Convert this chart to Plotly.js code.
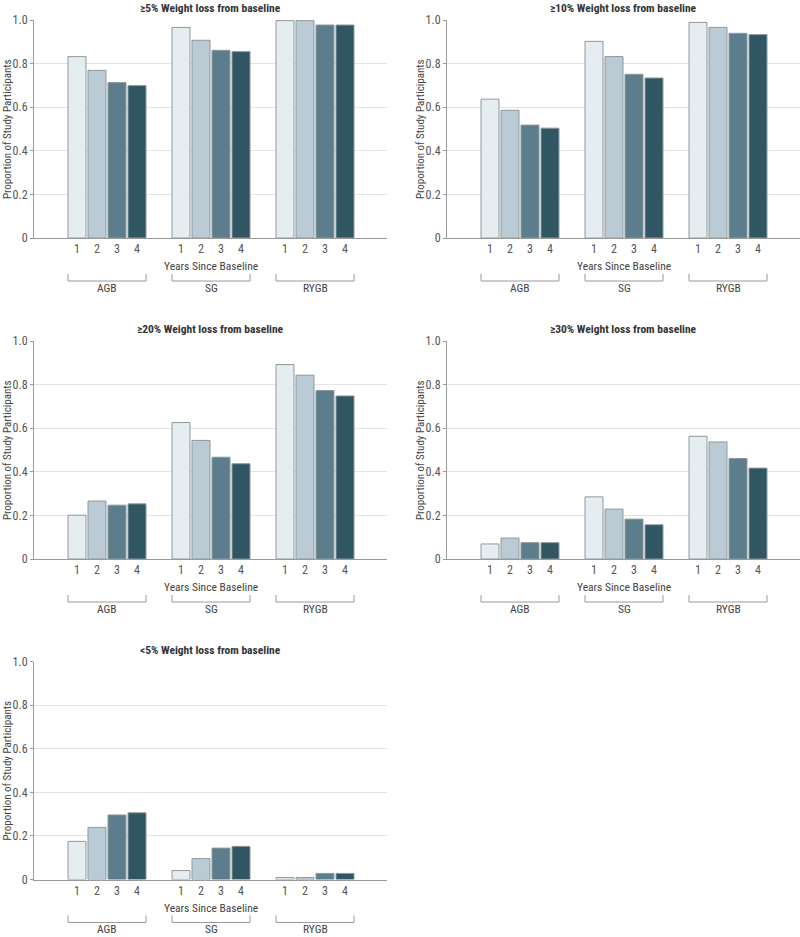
<!DOCTYPE html>
<html>
<head>
<meta charset="utf-8">
<script src="https://cdn.plot.ly/plotly-3.0.1.min.js"></script>
<style>html,body{margin:0;padding:0;background:#fff;}#chart{width:800px;height:937px;}</style>
</head>
<body>
<div id="chart"></div>
<script>
// ---- data ----
const groups = ['AGB', 'SG', 'RYGB'];
const years = ['1', '2', '3', '4'];
const panelTitles = [
  '≥5% Weight loss from baseline',
  '≥10% Weight loss from baseline',
  '≥20% Weight loss from baseline',
  '≥30% Weight loss from baseline',
  '<5% Weight loss from baseline'
];
const yTickVals = [0, 0.2, 0.4, 0.6, 0.8, 1.0];
const yTickText = ['0', '0.2', '0.4', '0.6', '0.8', '1.0'];
// values ordered AGB y1..y4, SG y1..y4, RYGB y1..y4
const ge5  = [0.832, 0.769, 0.713, 0.699, 0.966, 0.907, 0.861, 0.855, 0.997, 0.997, 0.977, 0.977];
const ge10 = [0.637, 0.586, 0.518, 0.504, 0.902, 0.832, 0.751, 0.734, 0.989, 0.966, 0.939, 0.933];
const ge20 = [0.201, 0.266, 0.247, 0.253, 0.626, 0.544, 0.467, 0.437, 0.892, 0.843, 0.773, 0.748];
const ge30 = [0.069, 0.096, 0.075, 0.075, 0.285, 0.229, 0.183, 0.157, 0.563, 0.537, 0.461, 0.417];
const lt5  = [0.175, 0.239, 0.296, 0.306, 0.041, 0.096, 0.144, 0.152, 0.009, 0.009, 0.028, 0.028];
const panelData = [ge5, ge10, ge20, ge30, lt5];

// ---- styling / layout ----
const yearColors = ['#e6edf1', '#bacbd5', '#5c7e8c', '#2f5662'];
const outline = '#8e999e';
const FONT = 'Liberation Sans Narrow, Arial Narrow, Roboto Condensed, DejaVu Sans Condensed, sans-serif';
const W = 800, H = 937;
const GP = 5.2; // group pitch in bar slots
const panelsPx = [
  {x0: 34, x1: 387, y0: 20, y1: 238},
  {x0: 447, x1: 800, y0: 20, y1: 238},
  {x0: 34, x1: 387, y0: 341, y1: 559},
  {x0: 447, x1: 800, y0: 341, y1: 559},
  {x0: 34, x1: 387, y0: 661.5, y1: 879.5}
];

const xPos = [], xLabels = [], colors = [];
groups.forEach((g, gi) => years.forEach((yr, yi) => {
  xPos.push(gi * GP + yi);
  xLabels.push(yr);
  colors.push(yearColors[yi]);
}));
const xRange = [-2.15, (groups.length - 1) * GP + (years.length - 1) + 2.1];

const traces = [];
const layout = {
  width: W, height: H,
  margin: {l: 0, r: 0, t: 0, b: 0},
  paper_bgcolor: '#fff', plot_bgcolor: '#fff',
  showlegend: false,
  font: {family: FONT, size: 12, color: '#444'},
  annotations: [], shapes: []
};

panelData.forEach((vals, p) => {
  const n = p + 1;
  const xa = n === 1 ? 'x' : 'x' + n;
  const ya = n === 1 ? 'y' : 'y' + n;
  const xk = n === 1 ? 'xaxis' : 'xaxis' + n;
  const yk = n === 1 ? 'yaxis' : 'yaxis' + n;
  const px = panelsPx[p];
  const hPx = px.y1 - px.y0;
  traces.push({
    type: 'bar', x: xPos, y: vals, xaxis: xa, yaxis: ya,
    width: 0.9,
    marker: {color: colors, line: {color: outline, width: 1}},
    hoverinfo: 'y'
  });
  layout[xk] = {
    domain: [px.x0 / W, px.x1 / W], anchor: ya,
    range: xRange, showgrid: false, zeroline: false,
    tickvals: xPos, ticktext: xLabels, ticks: '',
    showline: true, linecolor: '#9a9a9a', linewidth: 1,
    tickfont: {family: FONT, size: 12, color: '#555'},
    fixedrange: true
  };
  layout[yk] = {
    domain: [1 - px.y1 / H, 1 - px.y0 / H], anchor: xa,
    range: [0, 1], tickvals: yTickVals, ticktext: yTickText,
    showgrid: true, gridcolor: '#e4e4e4', gridwidth: 1,
    zeroline: false, showline: true, linecolor: '#9a9a9a', linewidth: 1,
    ticks: 'outside', ticklen: 3, tickcolor: '#9a9a9a',
    tickfont: {family: FONT, size: 12, color: '#555'},
    fixedrange: true
  };
  // panel title
  layout.annotations.push({
    text: '<b>' + panelTitles[p] + '</b>', xref: xa + ' domain', yref: ya + ' domain',
    x: 0.5, y: 1 + 12 / hPx, xanchor: 'center', yanchor: 'middle', showarrow: false,
    font: {family: FONT, size: 11.5, color: '#333'}
  });
  // x axis title
  layout.annotations.push({
    text: 'Years Since Baseline', xref: xa + ' domain', yref: ya + ' domain',
    x: 0.5, y: -28 / hPx, xanchor: 'center', yanchor: 'middle', showarrow: false,
    font: {family: FONT, size: 11.5, color: '#444'}
  });
  // y axis title
  layout.annotations.push({
    text: 'Proportion of Study Participants', xref: 'paper', yref: ya + ' domain',
    x: (px.x0 - 27) / W, y: 0.5, xanchor: 'center', yanchor: 'middle', showarrow: false,
    textangle: -90,
    font: {family: FONT, size: 11, color: '#444'}
  });
  // group brackets and labels
  groups.forEach((g, gi) => {
    const left = gi * GP - 0.45;
    const right = gi * GP + (years.length - 1) + 0.45;
    layout.shapes.push({
      type: 'path', xref: xa, yref: ya + ' domain',
      path: `M ${left},${-36 / hPx} L ${left},${-43 / hPx} L ${right},${-43 / hPx} L ${right},${-36 / hPx}`,
      line: {color: '#9a9a9a', width: 1}
    });
    layout.annotations.push({
      text: g, xref: xa, yref: ya + ' domain',
      x: gi * GP + (years.length - 1) / 2, y: -49.5 / hPx, xanchor: 'center', yanchor: 'middle',
      showarrow: false, font: {family: FONT, size: 11.5, color: '#444'}
    });
  });
});

Plotly.newPlot('chart', traces, layout, {displayModeBar: false, staticPlot: true});
</script>
</body>
</html>
